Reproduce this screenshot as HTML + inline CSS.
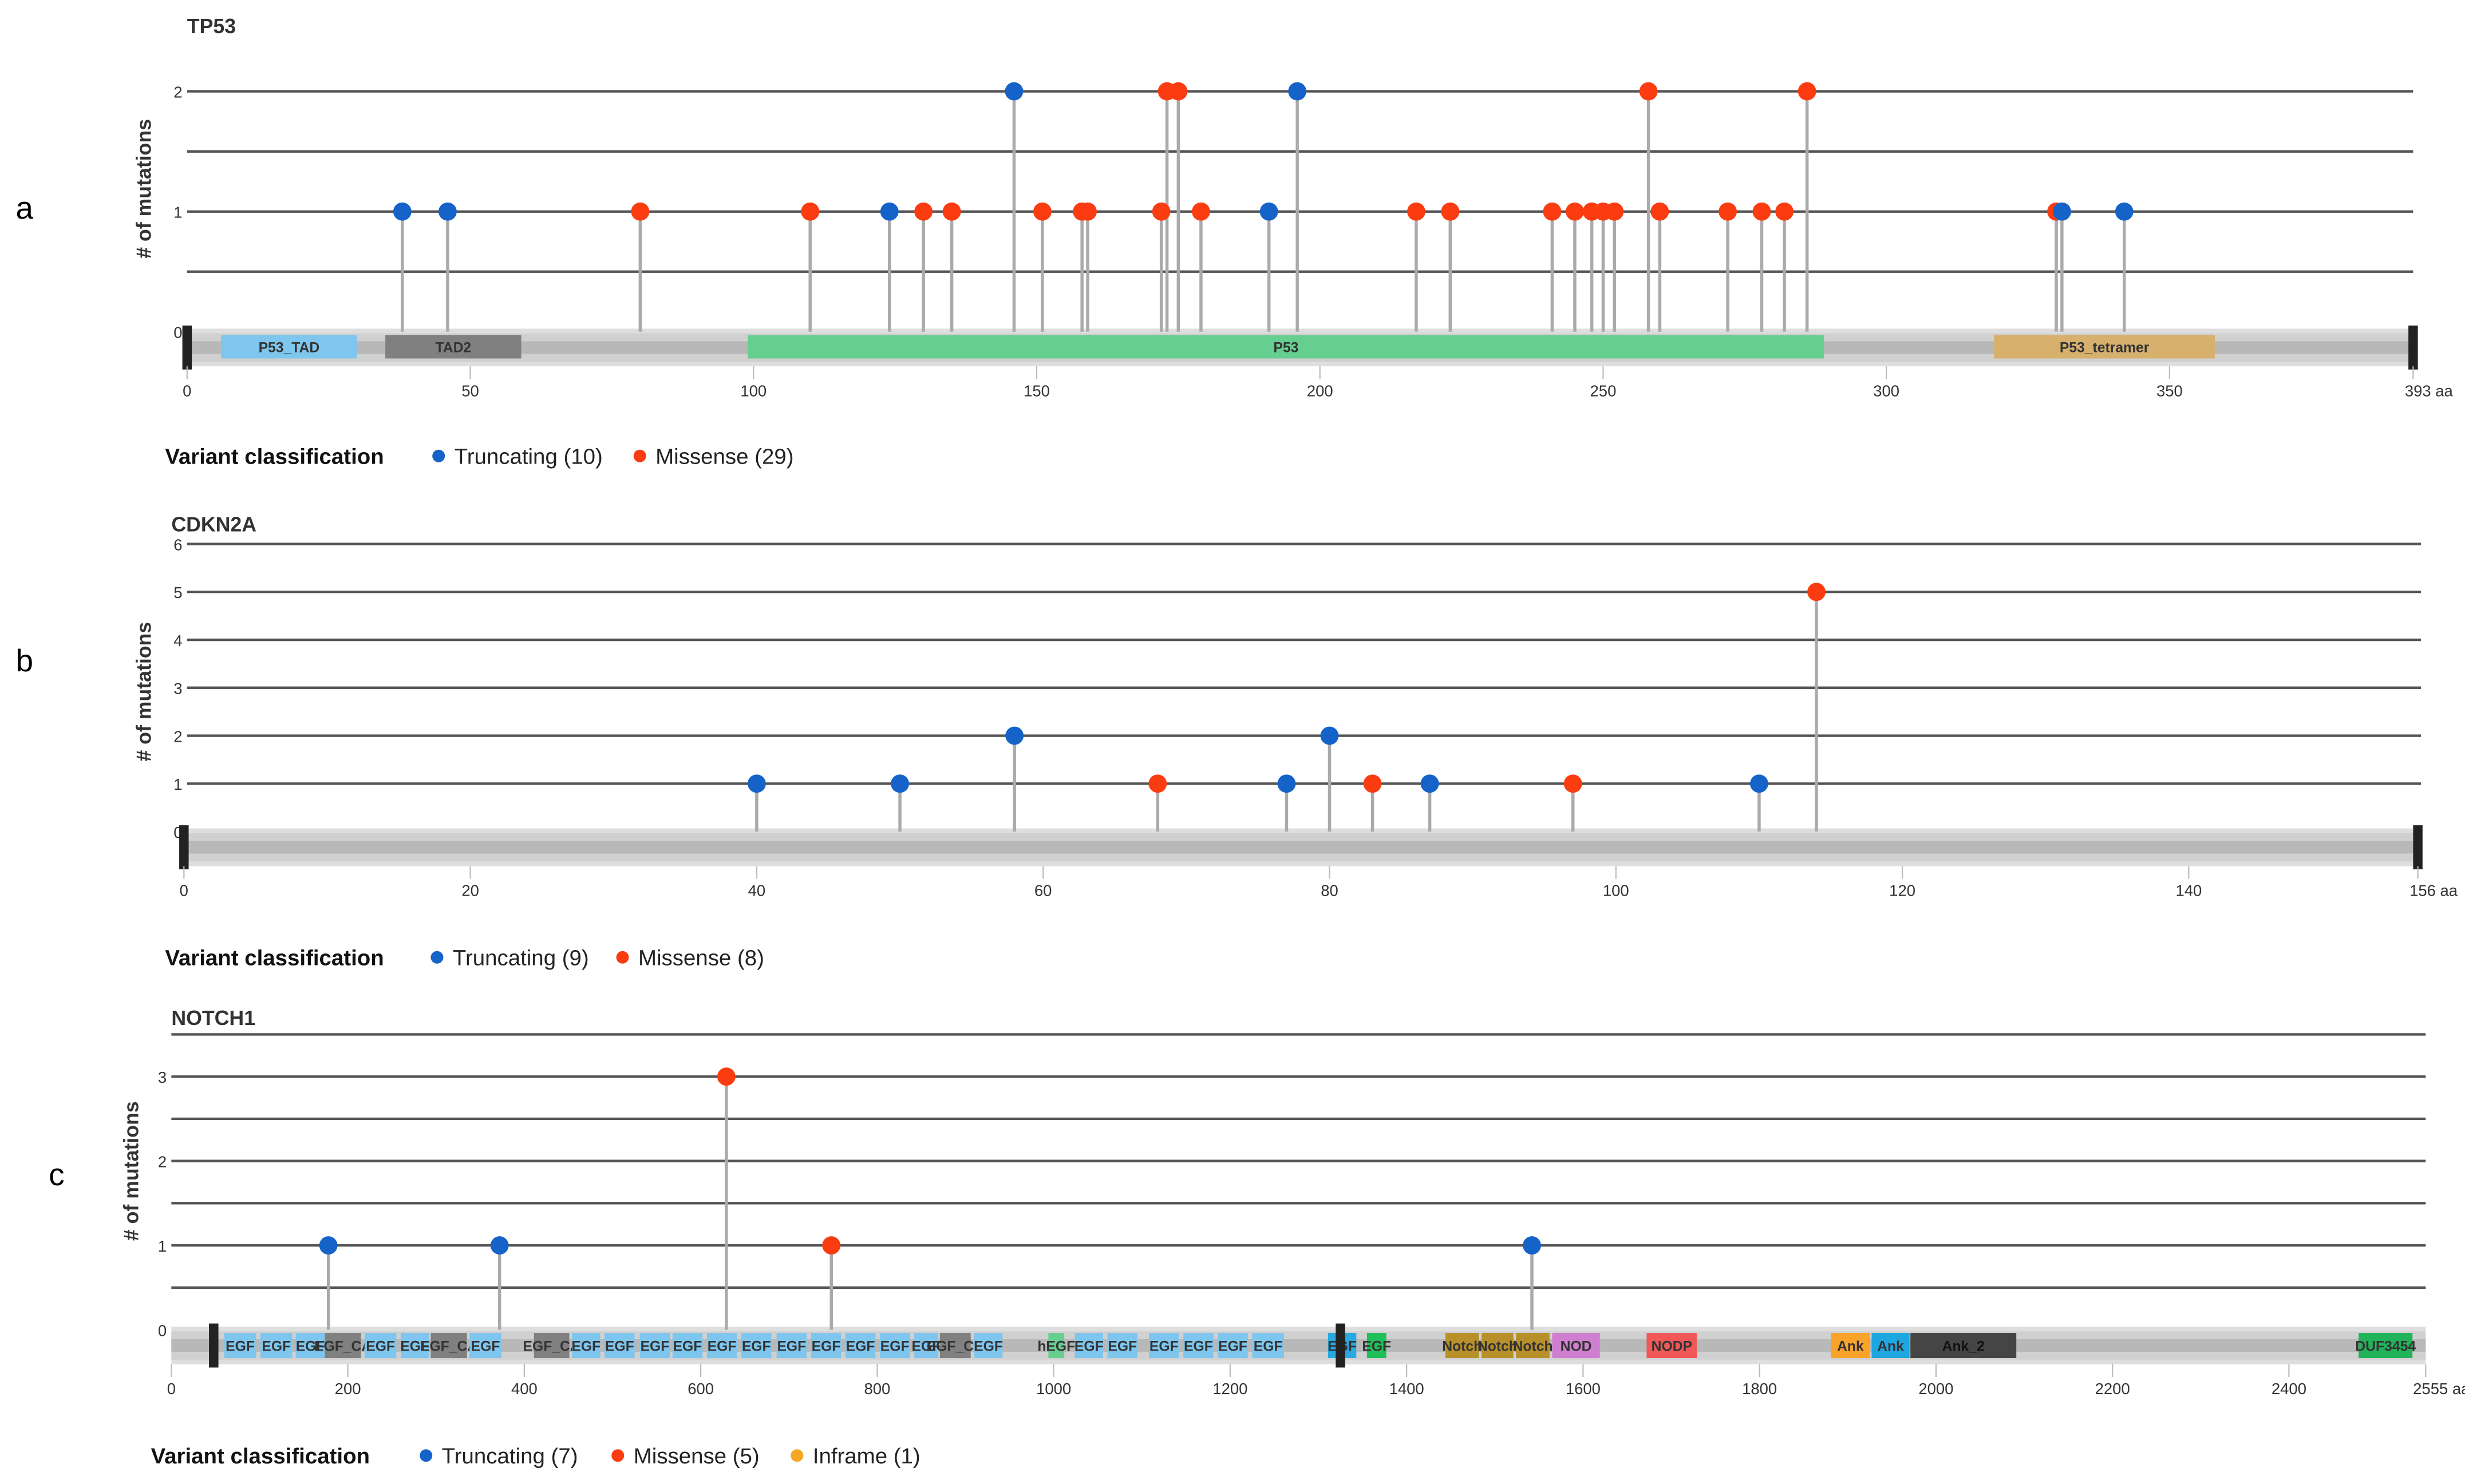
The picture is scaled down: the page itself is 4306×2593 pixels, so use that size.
<!DOCTYPE html>
<html><head><meta charset="utf-8"><style>
html,body{margin:0;padding:0;background:#fff}
svg{display:block}
text{font-family:"Liberation Sans",Arial,sans-serif}
</style></head><body>
<svg id="chart" width="4306" height="2593" viewBox="0 0 1568 944" xmlns="http://www.w3.org/2000/svg">
<rect width="1568" height="944" fill="#fff"/>
<text x="10" y="139" font-size="20">a</text>
<text x="10" y="427" font-size="20">b</text>
<text x="31" y="754" font-size="20">c</text>
<g id="root"></g>
</svg>
<script>
// ---- TP53 data ----
const tp53Pos = [38,46,80,110,124,130,135,146,151,158,159,172,173,175,179,191,196,217,223,241,245,248,250,252,258,260,272,278,282,286,330,331,342];
const tp53Cnt = [1,1,1,1,1,1,1,2,1,1,1,1,2,2,1,1,2,1,1,1,1,1,1,1,2,1,1,1,1,2,1,1,1];
const tp53Type = ["T","T","M","M","T","M","M","T","M","M","M","M","M","M","M","T","T","M","M","M","M","M","M","M","M","M","M","M","M","M","M","T","T"];
const tp53DomStart = [6,35,99,319];
const tp53DomEnd = [30,59,289,358];
const tp53DomName = ["P53_TAD","TAD2","P53","P53_tetramer"];
const tp53DomColor = ["#7ec6ee","#808080","#66cf8f","#d6b06c"];
const tp53Ticks = [0,50,100,150,200,250,300,350];
// ---- CDKN2A data ----
const cdkPos = [40,50,58,68,77,80,83,87,97,110,114];
const cdkCnt = [1,1,2,1,1,2,1,1,1,1,5];
const cdkType = ["T","T","T","M","T","T","M","T","M","T","M"];
const cdkTicks = [0,20,40,60,80,100,120,140];
// ---- NOTCH1 data ----
const nPos = [178,372,629,748,1542];
const nCnt = [1,1,3,1,1];
const nType = ["T","T","M","M","T"];
const nDomStart = [60,101,141,174,219,260,294,338,411,454,491,531,568,607,646,686,725,764,803,842,871,910,994,1024,1061,1108,1147,1186,1225,1311,1355,1444,1485,1524,1565,1672,1881,1927,1971,2479];
const nDomEnd = [96,137,174,215,255,292,335,374,451,486,525,565,602,641,680,720,759,798,837,869,906,942,1012,1056,1095,1142,1181,1220,1261,1343,1377,1482,1521,1562,1619,1729,1925,1970,2091,2540];
const nDomName = ["EGF","EGF","EGF","EGF_CA","EGF","EGF","EGF_CA","EGF","EGF_CA","EGF","EGF","EGF","EGF","EGF","EGF","EGF","EGF","EGF","EGF","EGF","EGF_CA","EGF","hEGF","EGF","EGF","EGF","EGF","EGF","EGF","EGF","EGF","Notch","Notch","Notch","NOD","NODP","Ank","Ank","Ank_2","DUF3454"];
const nDomColor = ["#7ec6ee","#7ec6ee","#7ec6ee","#808080","#7ec6ee","#7ec6ee","#808080","#7ec6ee","#808080","#7ec6ee","#7ec6ee","#7ec6ee","#7ec6ee","#7ec6ee","#7ec6ee","#7ec6ee","#7ec6ee","#7ec6ee","#7ec6ee","#7ec6ee","#808080","#7ec6ee","#66cf8f","#7ec6ee","#7ec6ee","#7ec6ee","#7ec6ee","#7ec6ee","#7ec6ee","#2aa8e0","#1fbf5a","#b8902a","#b8902a","#b8902a","#d07fd0","#f05858","#f9a32a","#1ea6e0","#454545","#21b35a"];
const nTicks = [0,200,400,600,800,1000,1200,1400,1600,1800,2000,2200,2400];
const nYTicks = [0,1,2,3];

const NS="http://www.w3.org/2000/svg";
const root=document.getElementById('root');
function mk(tag,attrs,parent,txt){const e=document.createElementNS(NS,tag);for(const k in attrs)e.setAttribute(k,attrs[k]);if(txt!==undefined)e.textContent=txt;(parent||root).appendChild(e);return e;}
const COL={T:"#1563c9",M:"#fb3c10",I:"#f5a623"};

function panel(o){
  const g=mk('g',{});
  
  
  const xs=a=>o.x0+(a-0)*(o.x1-o.x0)/o.len;
  const ys=v=>o.y0-v*o.dy;
  const t=mk('text',{x:o.titleX,y:o.titleY,'font-size':13,'font-weight':'bold',fill:'#333'},g,o.title);
  
  
  // grid
  o.grid.forEach(v=>{
    const l=mk('line',{x1:o.gx0,x2:o.gx1,y1:ys(v),y2:ys(v),stroke:'#555','stroke-width':1.6},g);
    
    
  });
  o.yticks.forEach(v=>{
    const l=mk('text',{x:o.gx0-3,y:ys(v)+4,'font-size':10,'text-anchor':'end',fill:'#333'},g,String(v));
    
    
  });
  const yl=mk('text',{transform:`translate(${o.ylx},${o.yly}) rotate(-90)`,'font-size':13,'font-weight':'bold','text-anchor':'middle',fill:'#333'},g,'# of mutations');
  
  
  // protein bar
  const by=o.y0;
  const b1=mk('rect',{x:o.gx0,y:by-2,width:o.gx1-o.gx0,height:24,fill:'#dedede'},g);
  
  
  mk('rect',{x:o.gx0,y:by+1,width:o.gx1-o.gx0,height:18,fill:'#d0d0d0'},g);
  mk('rect',{x:o.gx0,y:by+6,width:o.gx1-o.gx0,height:8,fill:'#b8b8b8'},g);
  (o.domS||[]).forEach((s,i)=>{
    const x=xs(s),w=xs(o.domE[i])-x;
    const r=mk('rect',{x:x,y:by+2,width:w,height:o.domH,fill:o.domC[i]},g);
    
    
    const tc=o.domC[i]=="#454545"?"#111":"#333";
    const tt=mk('text',{x:x+w/2,y:by+2+o.domH/2+3.5,'font-size':o.domF,'font-weight':'bold','text-anchor':'middle',fill:tc},g,o.domN[i]);
    
    
  });
  o.ends.forEach(a=>{
    const r=mk('rect',{x:xs(a)-3,y:by-4,width:6,height:28,fill:'#222'},g);
    
    
  });
  // x ticks
  o.xticks.forEach(v=>{
    mk('line',{x1:xs(v),x2:xs(v),y1:by+22,y2:by+30,stroke:'#bbb','stroke-width':0.8},g);
    const l=mk('text',{x:xs(v),y:by+41,'font-size':10,'text-anchor':'middle',fill:'#333'},g,String(v));
    
    
  });
  mk('line',{x1:xs(o.len),x2:xs(o.len),y1:by+22,y2:by+30,stroke:'#bbb','stroke-width':0.8},g);
  const el=mk('text',{x:xs(o.len)+10,y:by+41,'font-size':10,'text-anchor':'middle',fill:'#333'},g,o.len+' aa');
  
  
  // lollipops
  o.pos.forEach((p,i)=>{
    const x=xs(p),y=ys(o.cnt[i]);
    const s=mk('line',{x1:x,x2:x,y1:by,y2:y,stroke:'#aaa','stroke-width':2},g);
    
    
  });
  o.pos.forEach((p,i)=>{
    const c=mk('circle',{cx:xs(p),cy:ys(o.cnt[i]),r:5.8,fill:COL[o.typ[i]]},g);
    
    
  });
  // legend
  const lg=mk('g',{},g);
  
  
  mk('text',{x:o.legX,y:o.legY+5,'font-size':14,'font-weight':'bold',fill:'#111'},lg,'Variant classification');
  o.leg.forEach(e=>{
    const c=mk('circle',{cx:e[0],cy:o.legY,r:4,fill:COL[e[1]]},lg);
    
    
    const t=mk('text',{x:e[0]+10,y:o.legY+5,'font-size':14,fill:'#222'},lg,e[2]);
    
    
  });
}

panel({id:'tp53',title:'TP53',titleX:119,titleY:21,x0:119,x1:1535,len:393,y0:211,dy:76.5,
  gx0:119,gx1:1535,grid:[0.5,1,1.5,2],yticks:[0,1,2],ylx:96,yly:120,
  domS:tp53DomStart,domE:tp53DomEnd,domN:tp53DomName,domC:tp53DomColor,domH:15,domF:9,
  ends:[0,393],xticks:tp53Ticks,pos:tp53Pos,cnt:tp53Cnt,typ:tp53Type,
  legX:105,legY:290,leg:[[279,'T','Truncating (10)'],[407,'M','Missense (29)']]});
panel({id:'cdkn2a',title:'CDKN2A',titleX:109,titleY:338,x0:117,x1:1538,len:156,y0:529,dy:30.5,
  gx0:119,gx1:1540,grid:[1,2,3,4,5,6],yticks:[0,1,2,3,4,5,6],ylx:96,yly:440,
  ends:[0,156],xticks:cdkTicks,pos:cdkPos,cnt:cdkCnt,typ:cdkType,
  legX:105,legY:609,leg:[[278,'T','Truncating (9)'],[396,'M','Missense (8)']]});
panel({id:'notch1',title:'NOTCH1',titleX:109,titleY:652,x0:109,x1:1543,len:2555,y0:846,dy:53.7,
  gx0:109,gx1:1543,grid:[0.5,1,1.5,2,2.5,3,3.5],yticks:[0,1,2,3],ylx:88,yly:745,
  domS:nDomStart,domE:nDomEnd,domN:nDomName,domC:nDomColor,domH:16,domF:9,
  ends:[48,1325],xticks:nTicks,pos:nPos,cnt:nCnt,typ:nType,
  legX:96,legY:926,leg:[[271,'T','Truncating (7)'],[393,'M','Missense (5)'],[507,'I','Inframe (1)']]});
</script>
</body></html>
